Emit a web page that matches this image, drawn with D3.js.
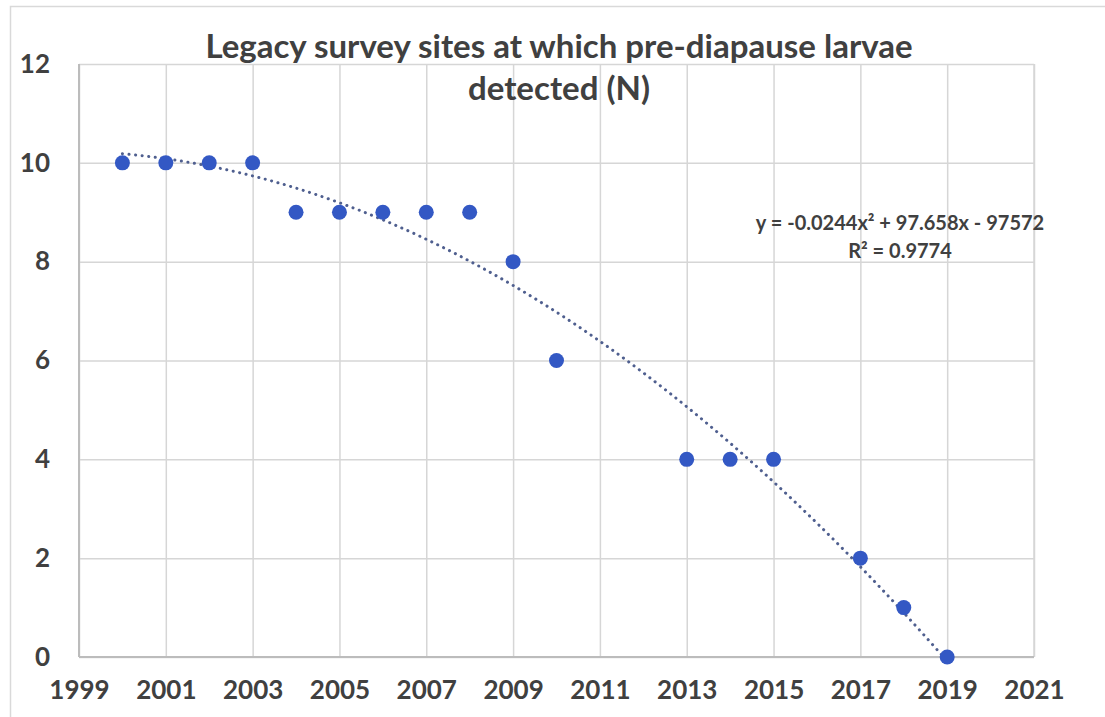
<!DOCTYPE html>
<html>
<head>
<meta charset="utf-8">
<script src="https://cdn.jsdelivr.net/npm/d3@7/dist/d3.min.js"></script>
<style>
  html, body { margin: 0; padding: 0; background: #fff; }
  svg { display: block; }
  text { font-family: Lato, "Open Sans", sans-serif; font-weight: 700; fill: #404040; }
</style>
</head>
<body>
<svg id="chart" width="1105" height="717"></svg>
<script>
// Survey years and number of legacy sites with pre-diapause larvae
const years = [2000, 2001, 2002, 2003, 2004, 2005, 2006, 2007, 2008, 2009, 2010, 2013, 2014, 2015, 2017, 2018, 2019];
const sites = [10, 10, 10, 10, 9, 9, 9, 9, 9, 8, 6, 4, 4, 4, 2, 1, 0];
const xTicks = [1999, 2001, 2003, 2005, 2007, 2009, 2011, 2013, 2015, 2017, 2019, 2021];
const yTicks = [0, 2, 4, 6, 8, 10, 12];
const titleLines = ["Legacy survey sites at which pre-diapause larvae", "detected (N)"];
const equationLines = ["y = -0.0244x\u00B2 + 97.658x - 97572", "R\u00B2 = 0.9774"];

const svg = d3.select("#chart");
const plot = { left: 79, right: 1034, top: 64, bottom: 657 };

const x = d3.scaleLinear().domain([1999, 2021]).range([plot.left, plot.right]);
const y = d3.scaleLinear().domain([0, 12]).range([plot.bottom, plot.top]);

// Outer chart frame
svg.append("rect")
  .attr("x", 10.5).attr("y", 6.5).attr("width", 1110).attr("height", 720)
  .attr("fill", "#fff").attr("stroke", "#d9d9d9").attr("stroke-width", 1.5);

// Gridlines
svg.append("g")
  .attr("transform", `translate(0,${plot.bottom})`)
  .call(d3.axisBottom(x).tickValues(xTicks).tickSize(-(plot.bottom - plot.top)).tickFormat(""))
  .call(g => g.select(".domain").remove())
  .call(g => g.selectAll("line").attr("stroke", "#d6d6d6").attr("stroke-width", 1.5));

svg.append("g")
  .attr("transform", `translate(${plot.left},0)`)
  .call(d3.axisLeft(y).tickValues(yTicks).tickSize(-(plot.right - plot.left)).tickFormat(""))
  .call(g => g.select(".domain").remove())
  .call(g => g.selectAll("line").attr("stroke", "#d6d6d6").attr("stroke-width", 1.5));

// Plot frame (axis lines darker at left and bottom)
svg.append("line").attr("x1", plot.right).attr("x2", plot.right).attr("y1", plot.top).attr("y2", plot.bottom)
  .attr("stroke", "#d6d6d6").attr("stroke-width", 1.5);
svg.append("line").attr("x1", plot.left).attr("x2", plot.left).attr("y1", plot.top).attr("y2", plot.bottom)
  .attr("stroke", "#bcbcbc").attr("stroke-width", 2);
svg.append("line").attr("x1", plot.left).attr("x2", plot.right).attr("y1", plot.bottom).attr("y2", plot.bottom)
  .attr("stroke", "#bcbcbc").attr("stroke-width", 2);

// Tick labels
svg.append("g")
  .attr("transform", `translate(0,${plot.bottom})`)
  .call(d3.axisBottom(x).tickValues(xTicks).tickSize(0).tickPadding(24).tickFormat(d3.format("d")))
  .call(g => g.select(".domain").remove())
  .call(g => g.selectAll("text").style("font-size", "26px").style("font-family", "Lato, sans-serif").attr("fill", "#404040"));

svg.append("g")
  .attr("transform", `translate(${plot.left},0)`)
  .call(d3.axisLeft(y).tickValues(yTicks).tickSize(0).tickPadding(29).tickFormat(d3.format("d")))
  .call(g => g.select(".domain").remove())
  .call(g => g.selectAll("text").style("font-size", "26px").style("font-family", "Lato, sans-serif").attr("fill", "#404040"));

// Quadratic least-squares trendline (centred years for numerical stability)
const n = years.length;
const xm = d3.mean(years);
const u = years.map(v => v - xm);
const S = k => d3.sum(u, v => Math.pow(v, k));
const T = k => d3.sum(u, (v, i) => Math.pow(v, k) * sites[i]);
const A = [[n, S(1), S(2)], [S(1), S(2), S(3)], [S(2), S(3), S(4)]];
const B = [T(0), T(1), T(2)];
function solve3(M, b) {
  const m = M.map((r, i) => [...r, b[i]]);
  for (let c = 0; c < 3; c++) {
    let p = c;
    for (let r = c + 1; r < 3; r++) if (Math.abs(m[r][c]) > Math.abs(m[p][c])) p = r;
    [m[c], m[p]] = [m[p], m[c]];
    for (let r = 0; r < 3; r++) {
      if (r === c) continue;
      const f = m[r][c] / m[c][c];
      for (let k = c; k < 4; k++) m[r][k] -= f * m[c][k];
    }
  }
  return m.map((r, i) => r[3] / r[i]);
}
const coef = solve3(A, B);
const fit = t => coef[0] + coef[1] * (t - xm) + coef[2] * (t - xm) * (t - xm);
const trendX = d3.range(years[0], years[n - 1] + 0.001, 0.1);

svg.append("path")
  .datum(trendX)
  .attr("fill", "none")
  .attr("stroke", "#4f5f8f")
  .attr("stroke-width", 3)
  .attr("stroke-linecap", "round")
  .attr("stroke-dasharray", "0.1 6.5")
  .attr("d", d3.line().x(d => x(d)).y(d => y(fit(d))));

// Data points
svg.append("g")
  .selectAll("circle")
  .data(years)
  .join("circle")
  .attr("cx", d => x(d))
  .attr("cy", (d, i) => y(sites[i]))
  .attr("r", 7.5)
  .attr("fill", "#3358c4");

// Title
svg.append("text")
  .attr("text-anchor", "middle")
  .style("font-size", "33px")
  .selectAll("tspan")
  .data(titleLines)
  .join("tspan")
  .attr("x", 559)
  .attr("y", (d, i) => 58 + i * 42)
  .text(d => d);

// Trendline equation
svg.append("text")
  .attr("text-anchor", "middle")
  .style("font-size", "20px")
  .selectAll("tspan")
  .data(equationLines)
  .join("tspan")
  .attr("x", 900)
  .attr("y", (d, i) => 230 + i * 28)
  .text(d => d);
</script>
</body>
</html>
